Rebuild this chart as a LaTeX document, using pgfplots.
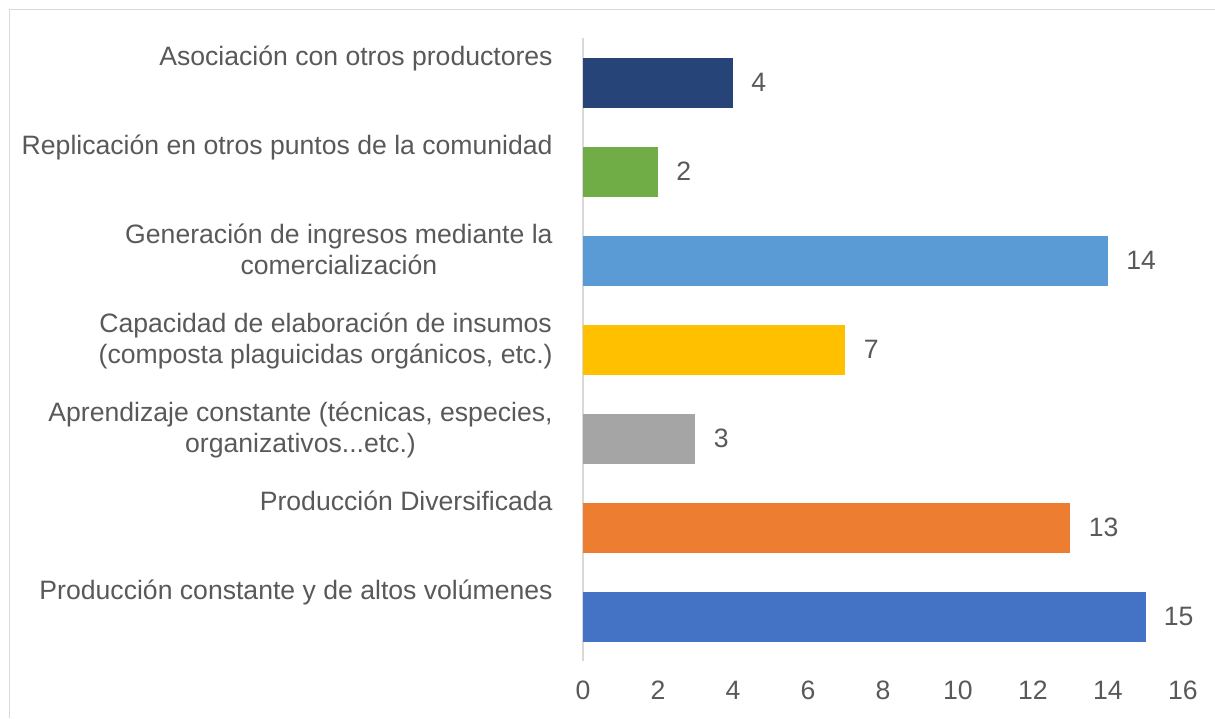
\documentclass[border=0pt]{standalone}
\usepackage{pgfplots}
\pgfplotsset{compat=1.18}
\usepackage{fontspec}
\setmainfont{Liberation Sans}
\newcommand\tdots{...}
\definecolor{txt}{HTML}{595959}
\definecolor{axl}{HTML}{D9D9D9}
\definecolor{c1}{HTML}{4472C4}
\definecolor{c2}{HTML}{ED7D31}
\definecolor{c3}{HTML}{A5A5A5}
\definecolor{c4}{HTML}{FFC000}
\definecolor{c5}{HTML}{5B9BD5}
\definecolor{c6}{HTML}{70AD47}
\definecolor{c7}{HTML}{264478}
\begin{document}
\fontsize{13.3}{15.5}\selectfont
\begin{tikzpicture}
\path[use as bounding box] (-291.5pt,-28.5pt) rectangle (316pt,330.5pt);
\draw[axl, line width=0.8pt] (-286.75pt,-28.5pt) -- (-286.75pt,325.75pt) -- (316pt,325.75pt);
\begin{axis}[
  at={(0,0)}, anchor=south west,
  scale only axis,
  width=300pt, height=311.5pt,
  xbar, bar width=25pt, bar shift=0pt,
  xmin=0, xmax=16, ymin=0.5, ymax=7.5,
  xtick={0,2,...,16},
  ytick={1,2,3,4,5,6,7},
  yticklabels={
    Producción constante y de altos volúmenes,
    Producción Diversificada,
    {Aprendizaje constante (técnicas, especies,\\organizativos\tdots etc.)},
    {Capacidad de elaboración de insumos\\(composta plaguicidas orgánicos, etc.)},
    {Generación de ingresos mediante la\\comercialización},
    Replicación en otros puntos de la comunidad,
    Asociación con otros productores},
  axis lines*=left,
  x axis line style={draw=none},
  y axis line style={draw=axl, line width=0.8pt},
  major tick length=0pt,
  tick style={draw=none},
  /pgf/number format/assume math mode=true,
  ticklabel style={font=\fontsize{13.3}{15.5}\selectfont, text=txt},
  xticklabel style={inner sep=0pt, anchor=north, yshift=-9.75pt},
  yticklabel style={align=center, inner sep=0pt, anchor=north east, xshift=-15pt, yshift=18.7pt},
  point meta=x,
  nodes near coords,
  nodes near coords style={font=\fontsize{13.3}{15.5}\selectfont, text=txt, anchor=west, inner sep=0pt, xshift=9pt},
  clip=false,
]
\addplot[fill=c1, draw=none] coordinates {(15,1)};
\addplot[fill=c2, draw=none] coordinates {(13,2)};
\addplot[fill=c3, draw=none] coordinates {(3,3)};
\addplot[fill=c4, draw=none] coordinates {(7,4)};
\addplot[fill=c5, draw=none] coordinates {(14,5)};
\addplot[fill=c6, draw=none] coordinates {(2,6)};
\addplot[fill=c7, draw=none] coordinates {(4,7)};
\end{axis}
\end{tikzpicture}
\end{document}
